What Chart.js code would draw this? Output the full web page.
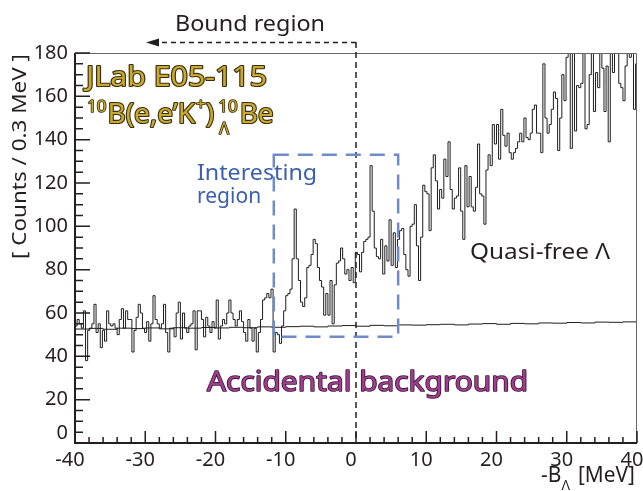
<!DOCTYPE html>
<html>
<head>
<meta charset="utf-8">
<script src="https://cdn.jsdelivr.net/npm/chart.js@4.4.1/dist/chart.umd.min.js"></script>
<style>
  html, body { margin: 0; padding: 0; background: #fff; }
</style>
</head>
<body>
<canvas id="chart" width="643" height="491"></canvas>
<script>
// Missing-energy spectrum, 0.3 MeV bins from -40 MeV upward
const X_MIN = -40;
const X_MAX = 40;
const BIN_WIDTH = 0.3;

const countsDeepBound = [54, 57, 55, 53, 61, 38, 52, 53, 55, 64, 51, 55, 44, 52, 47, 61, 55, 54, 55, 53,
  50, 57, 62, 53, 61, 57, 57, 42, 52, 58, 64, 60, 53, 51, 56, 47, 55, 68, 57, 55, 53, 55, 64, 51, 42, 53];
const countsBound = [53, 49, 60, 65, 48, 60, 53, 51, 54, 55, 61, 43, 61, 61, 57, 49, 58, 54, 51, 56,
  53, 66, 48, 54, 57, 55, 60, 66, 60, 57, 54, 57, 61, 56, 51, 47, 57, 53, 47, 53, 42, 51, 57, 66, 67, 69];
const countsInteresting = [67, 71, 42, 51, 50, 46, 54, 61, 68, 69, 71, 85, 108, 85, 75, 65, 63, 67, 81, 82,
  87, 94, 92, 81, 75, 72, 59, 69, 59, 75, 55, 73, 83, 84, 90, 85, 78, 80, 75, 81, 74, 88, 87, 79, 88];
const countsThreshold = [93, 94, 95, 128, 107, 90, 86, 85, 94, 78, 91, 84, 103, 82, 97, 81, 94, 98, 99, 87,
  80, 77, 100, 101, 110, 91, 75, 95, 119, 116, 115, 98, 127, 133, 121, 108, 117, 113, 131, 123, 139, 117, 108, 113, 114, 127];
const countsQuasiFree = [107, 94, 128, 109, 123, 109, 107, 118, 138, 115, 114, 101, 126, 133, 128, 147, 138, 147, 131, 154,
  142, 137, 143, 134, 131, 134, 136, 139, 143, 139, 150, 141, 140, 143, 154, 156, 143, 143, 134, 175, 150, 143, 147, 154, 162];
const countsHighEnergy = [159, 135, 150, 170, 158, 178, 185, 136, 185, 144, 165, 164, 166, 185, 145, 147, 170, 185, 153, 171,
  164, 185, 173, 153, 174, 139, 185, 171, 185, 185, 166, 164, 158, 174, 185, 178, 185, 154, 175];

// accidental background estimate, one value every 2 MeV from -40 to 40
const ACC_STEP = 2;
const accidentalCounts = [52.6, 52.9, 52.5, 53.0, 52.8, 53.1, 52.7, 53.2, 53.0, 53.3, 53.1, 53.4, 53.2, 53.6, 53.4, 53.7,
  53.9, 53.6, 54.0, 54.2, 53.9, 54.3, 54.1, 54.5, 54.4, 54.6, 54.8, 54.5, 54.9, 55.1, 54.8, 55.2, 55.0, 55.4, 55.3, 55.6,
  55.4, 55.8, 55.7, 55.9, 56.1];

// boxed "interesting" window: [-B min, -B max, counts min, counts max]
const interestBox = [-11.7, 6.0, 49, 133];

const FONT = "'Noto Sans', 'Open Sans', sans-serif";
const INK = "#231f20";

const allCounts = [].concat(countsDeepBound, countsBound, countsInteresting, countsThreshold, countsQuasiFree, countsHighEnergy);
const histPoints = allCounts.map((c, i) => ({ x: X_MIN + i * BIN_WIDTH, y: c }));
histPoints.push({ x: X_MIN + allCounts.length * BIN_WIDTH, y: allCounts[allCounts.length - 1] });
const accPoints = accidentalCounts.map((c, i) => ({ x: X_MIN + i * ACC_STEP, y: c }));

function text(ctx, str, x, y, size, opts = {}) {
  ctx.font = `${size}px ${FONT}`;
  ctx.textAlign = "left";
  ctx.textBaseline = "alphabetic";
  const w = ctx.measureText(str).width;
  const sx = opts.width ? opts.width / w : 1;
  ctx.save();
  ctx.translate(x, y);
  if (opts.rotate) ctx.rotate(opts.rotate);
  ctx.scale(sx, 1);
  if (opts.stroke) {
    ctx.lineJoin = "round";
    ctx.lineWidth = opts.strokeWidth || 2;
    ctx.strokeStyle = opts.stroke;
    ctx.strokeText(str, 0, 0);
  }
  ctx.fillStyle = opts.color || INK;
  ctx.fillText(str, 0, 0);
  ctx.restore();
  return w * sx;
}

const frameAndNotes = {
  id: "frameAndNotes",
  afterDraw(chart) {
    const { ctx, chartArea: a, scales: { x, y } } = chart;
    ctx.save();
    ctx.setLineDash([]);

    // frame
    ctx.strokeStyle = "#666";
    ctx.lineWidth = 1;
    ctx.beginPath();
    ctx.moveTo(a.left, a.top + 0.5);
    ctx.lineTo(a.right - 0.5, a.top + 0.5);
    ctx.lineTo(a.right - 0.5, a.bottom);
    ctx.stroke();

    // inner ticks
    ctx.strokeStyle = INK;
    ctx.lineWidth = 1.5;
    ctx.beginPath();
    for (let v = 0; v <= 180; v += 5) {
      const py = y.getPixelForValue(v);
      ctx.moveTo(a.left, py);
      ctx.lineTo(a.left + (v % 20 === 0 ? 15 : 8), py);
    }
    for (let v = X_MIN; v <= X_MAX; v += 2) {
      const px = x.getPixelForValue(v);
      ctx.moveTo(px, a.bottom);
      ctx.lineTo(px, a.bottom - (Math.abs(v) % 10 === 0 ? 12 : 6));
    }
    ctx.stroke();

    // axis lines
    ctx.lineWidth = 2;
    ctx.beginPath();
    ctx.moveTo(a.left, a.top);
    ctx.lineTo(a.left, a.bottom);
    ctx.lineTo(a.right, a.bottom);
    ctx.stroke();

    // shifted "0" label at the corner
    ctx.font = `20px ${FONT}`;
    ctx.fillStyle = INK;
    ctx.textAlign = "right";
    ctx.textBaseline = "middle";
    ctx.fillText("0", a.left - 7, a.bottom - 10);

    // threshold line at -B = 0 and bound-region arrow
    const x0 = x.getPixelForValue(0);
    ctx.lineWidth = 1.5;
    ctx.setLineDash([6, 4]);
    ctx.beginPath();
    ctx.moveTo(x0, 42);
    ctx.lineTo(x0, a.bottom);
    ctx.stroke();
    ctx.setLineDash([5, 4]);
    ctx.beginPath();
    ctx.moveTo(x0, 42.5);
    ctx.lineTo(159, 42.5);
    ctx.stroke();
    ctx.setLineDash([]);
    ctx.beginPath();
    ctx.moveTo(146, 42.5);
    ctx.lineTo(159, 38.5);
    ctx.lineTo(159, 46.5);
    ctx.closePath();
    ctx.fill();
    text(ctx, "Bound region", 175, 31, 22, { width: 150 });

    // interesting region box
    ctx.strokeStyle = "#6f8bcb";
    ctx.lineWidth = 2.5;
    ctx.setLineDash([15, 9]);
    const bx1 = x.getPixelForValue(interestBox[0]);
    const bx2 = x.getPixelForValue(interestBox[1]);
    const by1 = y.getPixelForValue(interestBox[3]);
    const by2 = y.getPixelForValue(interestBox[2]);
    ctx.strokeRect(bx1, by1, bx2 - bx1, by2 - by1);
    ctx.setLineDash([]);
    text(ctx, "Interesting", 197, 180, 21, { color: "#3b5fae", width: 120 });
    text(ctx, "region", 197, 203, 21, { color: "#3b5fae" });

    // experiment label
    const gold = { color: "#c9a92e", stroke: "#3a2e10", strokeWidth: 2.2 };
    const goldSmall = { color: "#c9a92e", stroke: "#3a2e10", strokeWidth: 1.6 };
    text(ctx, "JLab E05-115", 86, 86, 28, Object.assign({ width: 181 }, gold));
    let cx = 87;
    cx += text(ctx, "10", cx, 112, 17, goldSmall) + 1;
    cx += text(ctx, "B(e,e\u2019K", cx, 123, 28, gold) + 1;
    cx += text(ctx, "+", cx, 110, 17, goldSmall);
    cx += text(ctx, ")", cx, 123, 28, gold) + 4;
    const w10 = text(ctx, "10", cx, 112, 17, goldSmall);
    text(ctx, "\u039b", cx + 1, 134, 16, goldSmall);
    cx += w10 + 2;
    text(ctx, "Be", cx, 123, 28, gold);

    text(ctx, "Quasi-free \u039b", 470, 259, 21, { width: 140 });
    text(ctx, "Accidental background", 207, 391, 28, { color: "#9e3f8e", stroke: "#3d1338", strokeWidth: 1.6, width: 321 });

    // axis titles
    text(ctx, "[ Counts / 0.3 MeV ]", 26, 259, 20, { rotate: -Math.PI / 2, width: 205 });

    let tx = 541;
    tx += text(ctx, "-B", tx, 482, 21);
    tx += text(ctx, "\u039b", tx, 490, 14) + 8;
    text(ctx, "[MeV]", tx, 482, 21, { width: 57 });

    ctx.restore();
  }
};

new Chart(document.getElementById("chart"), {
  type: "line",
  data: {
    datasets: [
      { data: histPoints, borderColor: "#1e1e1e", borderWidth: 1, pointRadius: 0, stepped: true, fill: false },
      { data: accPoints, borderColor: "#1e1e1e", borderWidth: 1, pointRadius: 0, stepped: true, fill: false }
    ]
  },
  options: {
    responsive: false,
    animation: false,
    events: [],
    layout: { padding: { top: 53, right: 6, left: 0, bottom: 0 } },
    plugins: { legend: { display: false }, tooltip: { enabled: false } },
    scales: {
      x: {
        type: "linear",
        min: X_MIN,
        max: X_MAX,
        grid: { display: false, drawTicks: false },
        border: { display: false },
        ticks: { stepSize: 10, padding: 5, labelOffset: -5, maxRotation: 0, autoSkip: false, color: INK, font: { family: FONT, size: 20 } },
        afterFit(s) { s.height = 48; s.paddingLeft = 0; s.paddingRight = 0; }
      },
      y: {
        min: 0,
        max: 180,
        grid: { display: false, drawTicks: false },
        border: { display: false },
        ticks: { stepSize: 20, padding: 7, color: INK, font: { family: FONT, size: 20 }, callback: (v) => (v === 0 ? "" : v) },
        afterFit(s) { s.width = 75; s.paddingTop = 0; s.paddingBottom = 0; }
      }
    }
  },
  plugins: [frameAndNotes]
});
</script>
</body>
</html>
